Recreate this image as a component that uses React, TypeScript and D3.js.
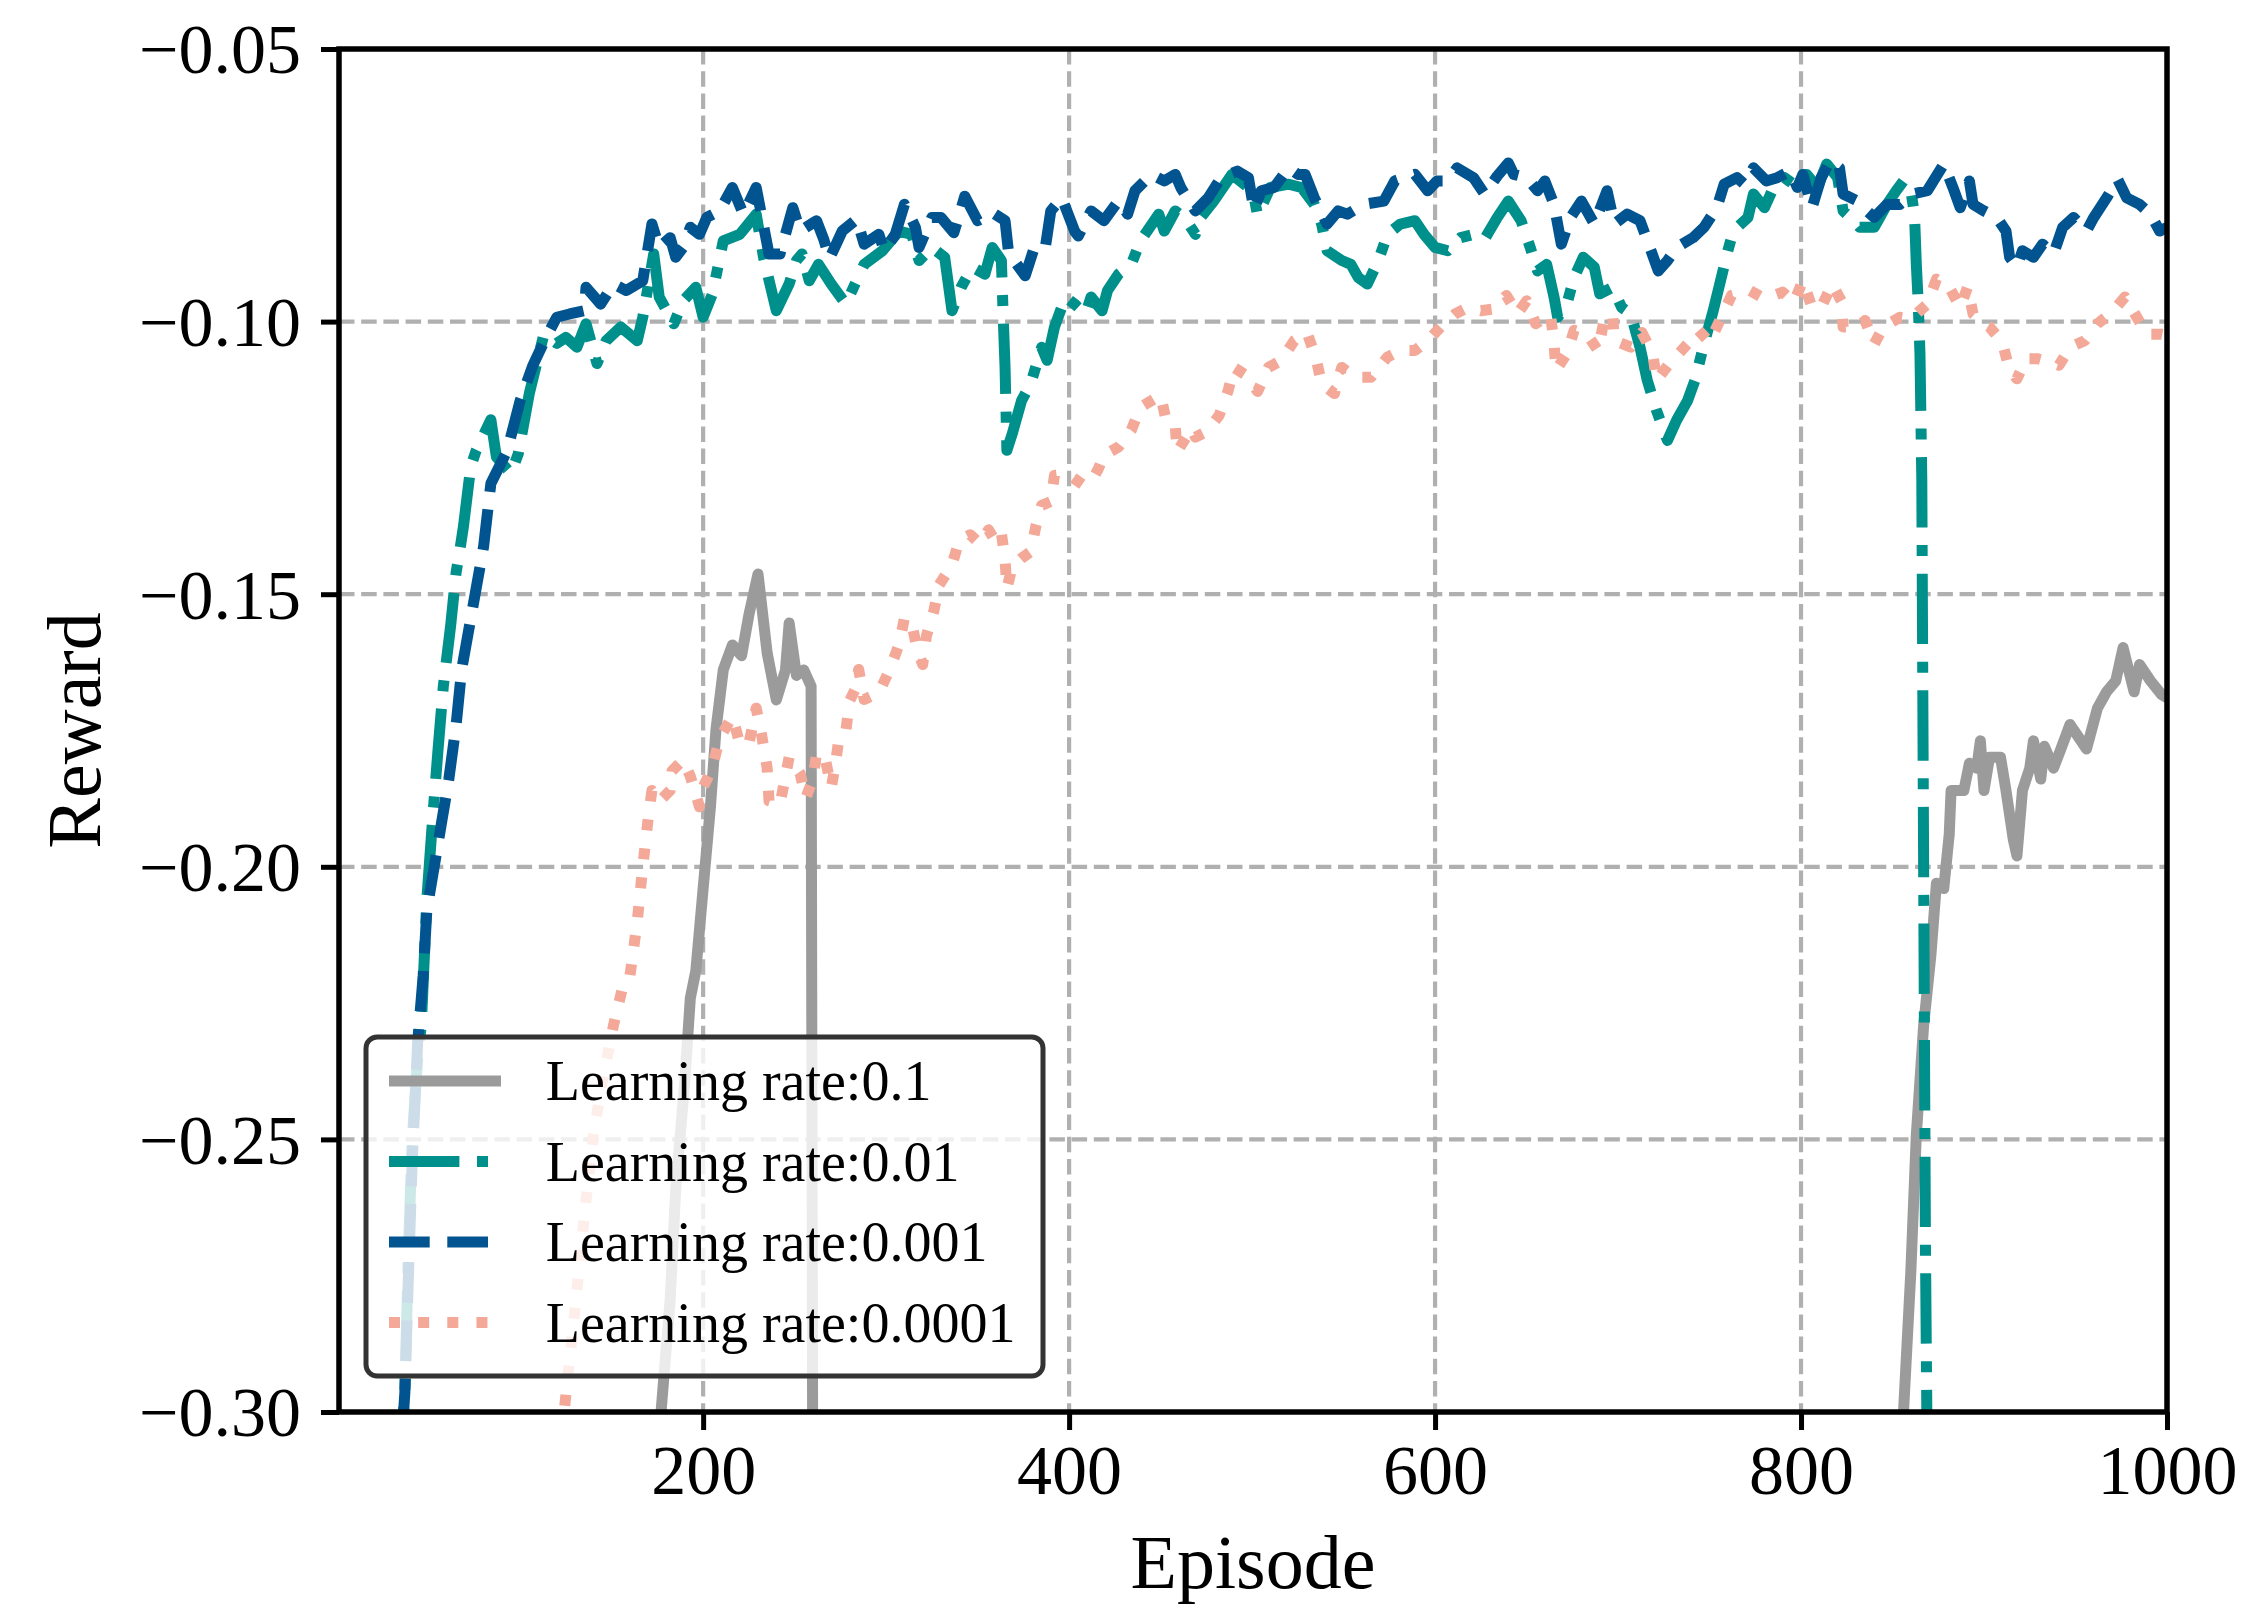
/*eslint-disable*/
import React, { useEffect, useRef } from 'react';
import * as d3 from 'd3';

// lr = 0.1 (goes off the bottom of the chart between ~260 and ~855)
const grayEp = [170, 177, 182, 185, 190, 193, 196, 200, 204, 207, 211, 216, 221, 225, 230, 235, 240, 245, 247, 251, 255, 259, 260,
  850, 856, 860, 863, 867, 871, 874, 878, 881, 882, 889, 892, 896, 898, 900, 903, 909, 912, 916, 918, 921, 925, 927, 931, 933, 938,
  942, 947, 951, 956, 962, 967, 972, 976, 982, 985, 991, 997, 1000];
const grayVal = [-0.33, -0.3, -0.2793, -0.2592, -0.2392, -0.2241, -0.2191, -0.204, -0.189, -0.1749, -0.1639, -0.1593, -0.1613, -0.1538,
  -0.1463, -0.1608, -0.1694, -0.1639, -0.1553, -0.1649, -0.1639, -0.1669, -0.33,
  -0.33, -0.3, -0.2743, -0.2492, -0.2291, -0.2161, -0.203, -0.204, -0.194, -0.186, -0.186, -0.181, -0.1819, -0.1769, -0.186, -0.1799,
  -0.1799, -0.186, -0.195, -0.198, -0.186, -0.1819, -0.1769, -0.1839, -0.1779, -0.1819, -0.1784, -0.1739, -0.1759, -0.1784, -0.1709,
  -0.1679, -0.1659, -0.1598, -0.1679, -0.1629, -0.1659, -0.1684, -0.169];

// lr = 0.01
const tealEp = [34, 37, 39, 41, 44, 46, 49, 52, 55, 58, 62, 65, 67, 69, 73, 76, 84, 87, 95, 99, 105, 109, 113, 120, 125, 131, 136, 142,
  147, 155, 164, 167, 173, 176, 184, 189, 196, 200, 205, 211, 220, 229, 233, 240, 247, 251, 254, 258, 263, 270, 278, 283, 288, 298,
  307, 314, 318, 325, 332, 336, 341, 347, 354, 358, 363, 364, 365, 366, 369, 374, 379, 385, 388, 392, 398, 403, 409, 412, 418, 421,
  427, 434, 439, 449, 452, 458, 463, 469, 472, 479, 489, 498, 501, 503, 510, 520, 527, 534, 538, 541, 549, 554, 558, 563, 569, 574,
  581, 589, 594, 600, 607, 614, 621, 627, 634, 640, 647, 652, 656, 661, 665, 667, 672, 676, 681, 687, 690, 697, 702, 707, 712, 716,
  721, 727, 732, 738, 742, 747, 752, 756, 760, 763, 771, 774, 780, 785, 791, 796, 803, 809, 814, 820, 823, 829, 832, 840, 847, 852,
  856, 860, 862, 863, 864, 865, 866, 867, 868, 869];
const tealVal = [-0.312, -0.296, -0.27, -0.25, -0.235, -0.229, -0.206, -0.192, -0.179, -0.1669, -0.1558, -0.146, -0.142, -0.1376,
  -0.1266, -0.1236, -0.118, -0.1248, -0.1279, -0.1242, -0.1132, -0.1077, -0.1023, -0.104, -0.1029, -0.1047, -0.1004, -0.1077,
  -0.1035, -0.101, -0.1035, -0.0992, -0.0876, -0.0955, -0.1004, -0.0962, -0.0937, -0.0992, -0.095, -0.0852, -0.084, -0.0803,
  -0.0882, -0.098, -0.0931, -0.0888, -0.0876, -0.0925, -0.0895, -0.0931, -0.0968, -0.0931, -0.0895, -0.087, -0.0834, -0.084,
  -0.0888, -0.0864, -0.0882, -0.098, -0.0937, -0.09, -0.0913, -0.0864, -0.0888, -0.0992, -0.1084, -0.1236, -0.1205, -0.1145,
  -0.1114, -0.1047, -0.1071, -0.101, -0.0955, -0.0968, -0.0986, -0.0955, -0.098, -0.0943, -0.0913, -0.0895, -0.0852, -0.0803,
  -0.0834, -0.0797, -0.0809, -0.084, -0.0809, -0.0779, -0.073, -0.0754, -0.077, -0.0805, -0.0754, -0.0748, -0.0754, -0.0785,
  -0.0821, -0.087, -0.0888, -0.0895, -0.0919, -0.0931, -0.0888, -0.084, -0.0821, -0.0815, -0.084, -0.0864, -0.087, -0.0846,
  -0.084, -0.0849, -0.0809, -0.0779, -0.0815, -0.0864, -0.0907, -0.0895, -0.0955, -0.0992, -0.0968, -0.0919, -0.0882, -0.09,
  -0.0949, -0.0937, -0.0974, -0.0986, -0.1047, -0.1108, -0.1163, -0.1218, -0.1181, -0.1145, -0.1108, -0.1041, -0.098, -0.0925,
  -0.087, -0.0834, -0.0809, -0.0766, -0.0791, -0.0754, -0.0736, -0.0748, -0.073, -0.0754, -0.0711, -0.0736, -0.0797, -0.0815,
  -0.0827, -0.0827, -0.0785, -0.076, -0.0742, -0.076, -0.0803, -0.0895, -0.0962, -0.1059, -0.129, -0.2, -0.27, -0.31];

// lr = 0.001
const blueEp = [34, 37, 39, 41, 44, 47, 49, 53, 57, 61, 65, 68, 73, 80, 84, 93, 100, 107, 114, 120, 127, 135, 136, 144, 151, 158, 167,
  172, 176, 182, 185, 189, 193, 198, 202, 209, 216, 222, 229, 236, 242, 249, 253, 259, 262, 266, 269, 276, 284, 288, 296, 299, 305,
  310, 316, 318, 325, 330, 337, 343, 350, 358, 365, 367, 370, 376, 381, 387, 390, 396, 403, 405, 412, 419, 427, 432, 436, 445, 452,
  458, 461, 469, 476, 483, 492, 498, 501, 505, 512, 520, 525, 529, 534, 541, 547, 552, 561, 572, 578, 583, 589, 596, 601, 607, 612,
  621, 627, 634, 640, 643, 650, 656, 660, 665, 669, 674, 680, 687, 694, 698, 705, 712, 718, 722, 727, 732, 741, 747, 754, 758, 765,
  769, 774, 781, 787, 794, 798, 801, 806, 811, 816, 821, 823, 831, 836, 840, 847, 854, 861, 869, 878, 883, 887, 892, 894, 900, 907,
  912, 914, 918, 921, 927, 932, 938, 943, 949, 956, 960, 967, 973, 978, 985, 991, 996, 1000];
const blueVal = [-0.312, -0.2964, -0.2743, -0.2542, -0.2321, -0.22, -0.208, -0.2, -0.192, -0.184, -0.174, -0.1639, -0.1545, -0.1413,
  -0.1297, -0.1236, -0.1145, -0.108, -0.103, -0.0992, -0.0986, -0.098, -0.0937, -0.0968, -0.0931, -0.0943, -0.0925, -0.0821,
  -0.0864, -0.0846, -0.0882, -0.0864, -0.0827, -0.084, -0.0809, -0.0797, -0.0754, -0.0803, -0.0754, -0.0876, -0.0876, -0.0791,
  -0.0834, -0.0821, -0.0815, -0.085, -0.0885, -0.0834, -0.0812, -0.0858, -0.084, -0.087, -0.084, -0.0785, -0.0827, -0.0864,
  -0.0809, -0.0809, -0.0837, -0.077, -0.0815, -0.08, -0.0815, -0.0876, -0.0888, -0.0916, -0.0864, -0.0864, -0.0797, -0.0773,
  -0.0834, -0.0843, -0.0797, -0.0815, -0.0778, -0.0803, -0.076, -0.073, -0.0742, -0.073, -0.0754, -0.0797, -0.0773, -0.0736,
  -0.0724, -0.0736, -0.0795, -0.076, -0.0754, -0.0718, -0.073, -0.073, -0.0773, -0.0821, -0.0797, -0.0803, -0.0785, -0.0779,
  -0.0742, -0.0736, -0.073, -0.076, -0.0742, -0.0742, -0.0718, -0.0736, -0.0766, -0.0733, -0.0709, -0.073, -0.0736, -0.076,
  -0.0742, -0.0785, -0.0858, -0.0809, -0.0779, -0.0821, -0.076, -0.0821, -0.0803, -0.0815, -0.087, -0.0907, -0.0888, -0.0864,
  -0.0846, -0.0827, -0.0791, -0.0748, -0.0736, -0.0748, -0.0718, -0.0742, -0.0736, -0.0724, -0.0754, -0.073, -0.0791, -0.0736,
  -0.0705, -0.0718, -0.0766, -0.0779, -0.0797, -0.0809, -0.0785, -0.0785, -0.0766, -0.076, -0.0711, -0.0754, -0.0791, -0.0742,
  -0.0785, -0.0797, -0.0809, -0.0834, -0.0882, -0.09, -0.087, -0.0882, -0.0858, -0.0876, -0.0827, -0.0809, -0.0834, -0.0809,
  -0.0773, -0.0739, -0.0773, -0.0785, -0.0803, -0.0834, -0.0827];

// lr = 0.0001
const salmonEp = [115, 124, 129, 135, 140, 145, 151, 156, 160, 164, 167, 170, 172, 176, 182, 183, 189, 193, 198, 200, 205, 209, 216,
  220, 225, 229, 232, 235, 236, 242, 247, 253, 256, 260, 262, 267, 270, 272, 274, 278, 280, 283, 285, 288, 296, 302, 307, 310, 314,
  317, 320, 322, 326, 329, 336, 340, 346, 351, 356, 360, 363, 365, 366, 369, 374, 379, 382, 385, 390, 392, 399, 408, 413, 416, 419,
  427, 434, 439, 450, 453, 458, 459, 467, 469, 475, 482, 487, 490, 497, 503, 509, 516, 523, 530, 535, 538, 545, 549, 556, 565, 574,
  581, 589, 596, 603, 611, 618, 625, 632, 639, 645, 650, 655, 663, 665, 666, 672, 676, 683, 689, 692, 697, 698, 707, 713, 719, 721,
  728, 738, 744, 750, 756, 762, 772, 780, 790, 796, 801, 806, 811, 817, 822, 823, 831, 835, 840, 845, 854, 860, 869, 874, 881, 887,
  891, 894, 900, 903, 910, 914, 918, 923, 929, 936, 941, 947, 955, 962, 970, 977, 983, 989, 997, 1000];
const salmonVal = [-0.32, -0.3, -0.2843, -0.2643, -0.2492, -0.2392, -0.2291, -0.2221, -0.22, -0.21, -0.2, -0.191, -0.186, -0.188,
  -0.186, -0.1824, -0.1804, -0.1834, -0.189, -0.1854, -0.1819, -0.1764, -0.1724, -0.1774, -0.1774, -0.1709, -0.1759, -0.1819,
  -0.1879, -0.1885, -0.1799, -0.1829, -0.1874, -0.184, -0.1791, -0.1806, -0.1855, -0.1818, -0.177, -0.1751, -0.1696, -0.1675,
  -0.1638, -0.1693, -0.1681, -0.1638, -0.1593, -0.1544, -0.1553, -0.1602, -0.1629, -0.1577, -0.1532, -0.1483, -0.1446, -0.1401,
  -0.1391, -0.1407, -0.1382, -0.1404, -0.1388, -0.1437, -0.1489, -0.1449, -0.1434, -0.1422, -0.1373, -0.1337, -0.133, -0.1282,
  -0.1279, -0.13, -0.1288, -0.127, -0.1245, -0.123, -0.1199, -0.1157, -0.1135, -0.1181, -0.119, -0.1239, -0.1196, -0.1212,
  -0.1202, -0.1172, -0.1126, -0.1084, -0.1099, -0.1128, -0.1084, -0.1071, -0.1035, -0.102, -0.1068, -0.1114, -0.1132, -0.1084,
  -0.1102, -0.1102, -0.1065, -0.1053, -0.1053, -0.1035, -0.101, -0.0986, -0.0974, -0.098, -0.0977, -0.0952, -0.0986, -0.0962,
  -0.1004, -0.0986, -0.1038, -0.109, -0.1059, -0.1016, -0.1023, -0.1053, -0.1004, -0.0986, -0.1035, -0.1047, -0.102, -0.1059,
  -0.1108, -0.1077, -0.1041, -0.1016, -0.1038, -0.0995, -0.0952, -0.0943, -0.0958, -0.0946, -0.0965, -0.0925, -0.0974, -0.0974,
  -0.0931, -0.0962, -0.101, -0.101, -0.0998, -0.1041, -0.101, -0.0992, -0.0995, -0.0968, -0.0922, -0.0937, -0.0974, -0.0937,
  -0.0986, -0.1004, -0.101, -0.1038, -0.109, -0.1105, -0.1068, -0.1068, -0.1074, -0.108, -0.1047, -0.1035, -0.1004, -0.0983,
  -0.0955, -0.0989, -0.1023, -0.1023, -0.1025];

const xTicks = [200, 400, 600, 800, 1000];
const yTicks = [-0.3, -0.25, -0.2, -0.15, -0.1, -0.05];
const seriesNames = ['Learning rate:0.1', 'Learning rate:0.01', 'Learning rate:0.001', 'Learning rate:0.0001'];

const FONT = "'Liberation Serif', 'Times New Roman', serif";
const LW = 11;

const App: React.FC = () => {
  const svgRef = useRef<SVGSVGElement>(null);
  useEffect(() => {
    const W = 2262, H = 1619;
    const margin = { top: 49, right: 95, bottom: 207, left: 339 };
    const width = W - margin.left - margin.right;
    const height = H - margin.top - margin.bottom;

    const root = d3.select(svgRef.current);
    root.selectAll('*').remove();
    root.attr('width', W).attr('height', H);
    root.append('rect').attr('width', W).attr('height', H).attr('fill', '#fff');

    const svg = root.append('g').attr('transform', `translate(${margin.left},${margin.top})`);

    const x = d3.scaleLinear().domain([1, 1000]).range([0, width]);
    const y = d3.scaleLinear().domain([-0.3, -0.05]).range([height, 0]);

    svg.append('defs').append('clipPath').attr('id', 'plotclip')
      .append('rect').attr('width', width).attr('height', height);

    // grid
    const grid = svg.append('g').attr('stroke', '#b0b0b0').attr('stroke-width', 4.2).attr('stroke-dasharray', '15.5,6.7');
    xTicks.filter(t => t < 1000).forEach(t => {
      grid.append('line').attr('x1', x(t)).attr('x2', x(t)).attr('y1', 0).attr('y2', height);
    });
    yTicks.filter(t => t > -0.3 && t < -0.05).forEach(t => {
      grid.append('line').attr('x1', 0).attr('x2', width).attr('y1', y(t)).attr('y2', y(t));
    });

    const series = [
      { ep: grayEp, val: grayVal, color: '#9b9b9b', dash: null },
      { ep: tealEp, val: tealVal, color: '#00908c', dash: [6.4, 1.6, 1, 1.6] },
      { ep: blueEp, val: blueVal, color: '#01548f', dash: [3.7, 1.6] },
      { ep: salmonEp, val: salmonVal, color: '#f4a898', dash: [1, 1.65] },
    ];

    const line = d3.line<[number, number]>()
      .x(d => x(d[0]))
      .y(d => y(d[1]));

    const plot = svg.append('g').attr('clip-path', 'url(#plotclip)');
    series.forEach(s => {
      const pts = s.ep.map((e, i) => [e, s.val[i]] as [number, number]);
      plot.append('path')
        .datum(pts)
        .attr('fill', 'none')
        .attr('stroke', s.color)
        .attr('stroke-width', LW)
        .attr('stroke-linejoin', 'round')
        .attr('stroke-linecap', 'butt')
        .attr('stroke-dasharray', s.dash ? s.dash.map(v => v * LW).join(',') : null)
        .attr('d', line);
    });

    // axes
    const fmt = (v: number) => d3.format('.2f')(v).replace('-', '\u2212');
    const xAxis = svg.append('g')
      .attr('transform', `translate(0,${height})`)
      .call(d3.axisBottom(x).tickValues(xTicks).tickSize(18).tickPadding(14).tickFormat(d3.format('d') as any));
    const yAxis = svg.append('g')
      .call(d3.axisLeft(y).tickValues(yTicks).tickSize(18).tickPadding(20).tickFormat(fmt as any));
    [xAxis, yAxis].forEach(a => {
      a.select('.domain').remove();
      a.selectAll('.tick line').attr('stroke', '#000').attr('stroke-width', 5);
      a.selectAll('.tick text').attr('fill', '#000').attr('font-family', FONT).attr('font-size', 70);
    });
    xAxis.selectAll('.tick text').attr('dy', '0.71em');
    yAxis.selectAll('.tick text').attr('dy', '0.34em');

    svg.append('rect')
      .attr('width', width).attr('height', height)
      .attr('fill', 'none').attr('stroke', '#000').attr('stroke-width', 5.5);

    svg.append('text')
      .attr('x', width / 2).attr('y', height + 176)
      .attr('text-anchor', 'middle')
      .attr('font-family', FONT).attr('font-size', 76)
      .text('Episode');
    svg.append('text')
      .attr('transform', `translate(${100 - margin.left},${height / 2}) rotate(-90)`)
      .attr('text-anchor', 'middle')
      .attr('font-family', FONT).attr('font-size', 76)
      .text('Reward');

    // legend
    const fs = 56;
    const lg = svg.append('g').attr('transform', `translate(${0.5 * fs - 1},${height - 36 - 339})`);
    lg.append('rect')
      .attr('width', 677).attr('height', 339)
      .attr('rx', 0.2 * fs).attr('ry', 0.2 * fs)
      .attr('fill', 'rgba(255,255,255,0.8)')
      .attr('stroke', '#333').attr('stroke-width', 5);
    series.forEach((s, i) => {
      const cy = 44 + i * 80.5;
      lg.append('line')
        .attr('x1', 23).attr('x2', 23 + 2 * fs)
        .attr('y1', cy).attr('y2', cy)
        .attr('stroke', s.color).attr('stroke-width', LW)
        .attr('stroke-dasharray', s.dash ? s.dash.map(v => v * LW).join(',') : null);
      lg.append('text')
        .attr('x', 23 + 2 * fs + 0.8 * fs).attr('y', cy + 19)
        .attr('font-family', FONT).attr('font-size', fs)
        .text(seriesNames[i]);
    });
  }, []);

  return <svg ref={svgRef} style={{ position: 'absolute', left: 0, top: 0, display: 'block' }}></svg>;
};

export default App;
